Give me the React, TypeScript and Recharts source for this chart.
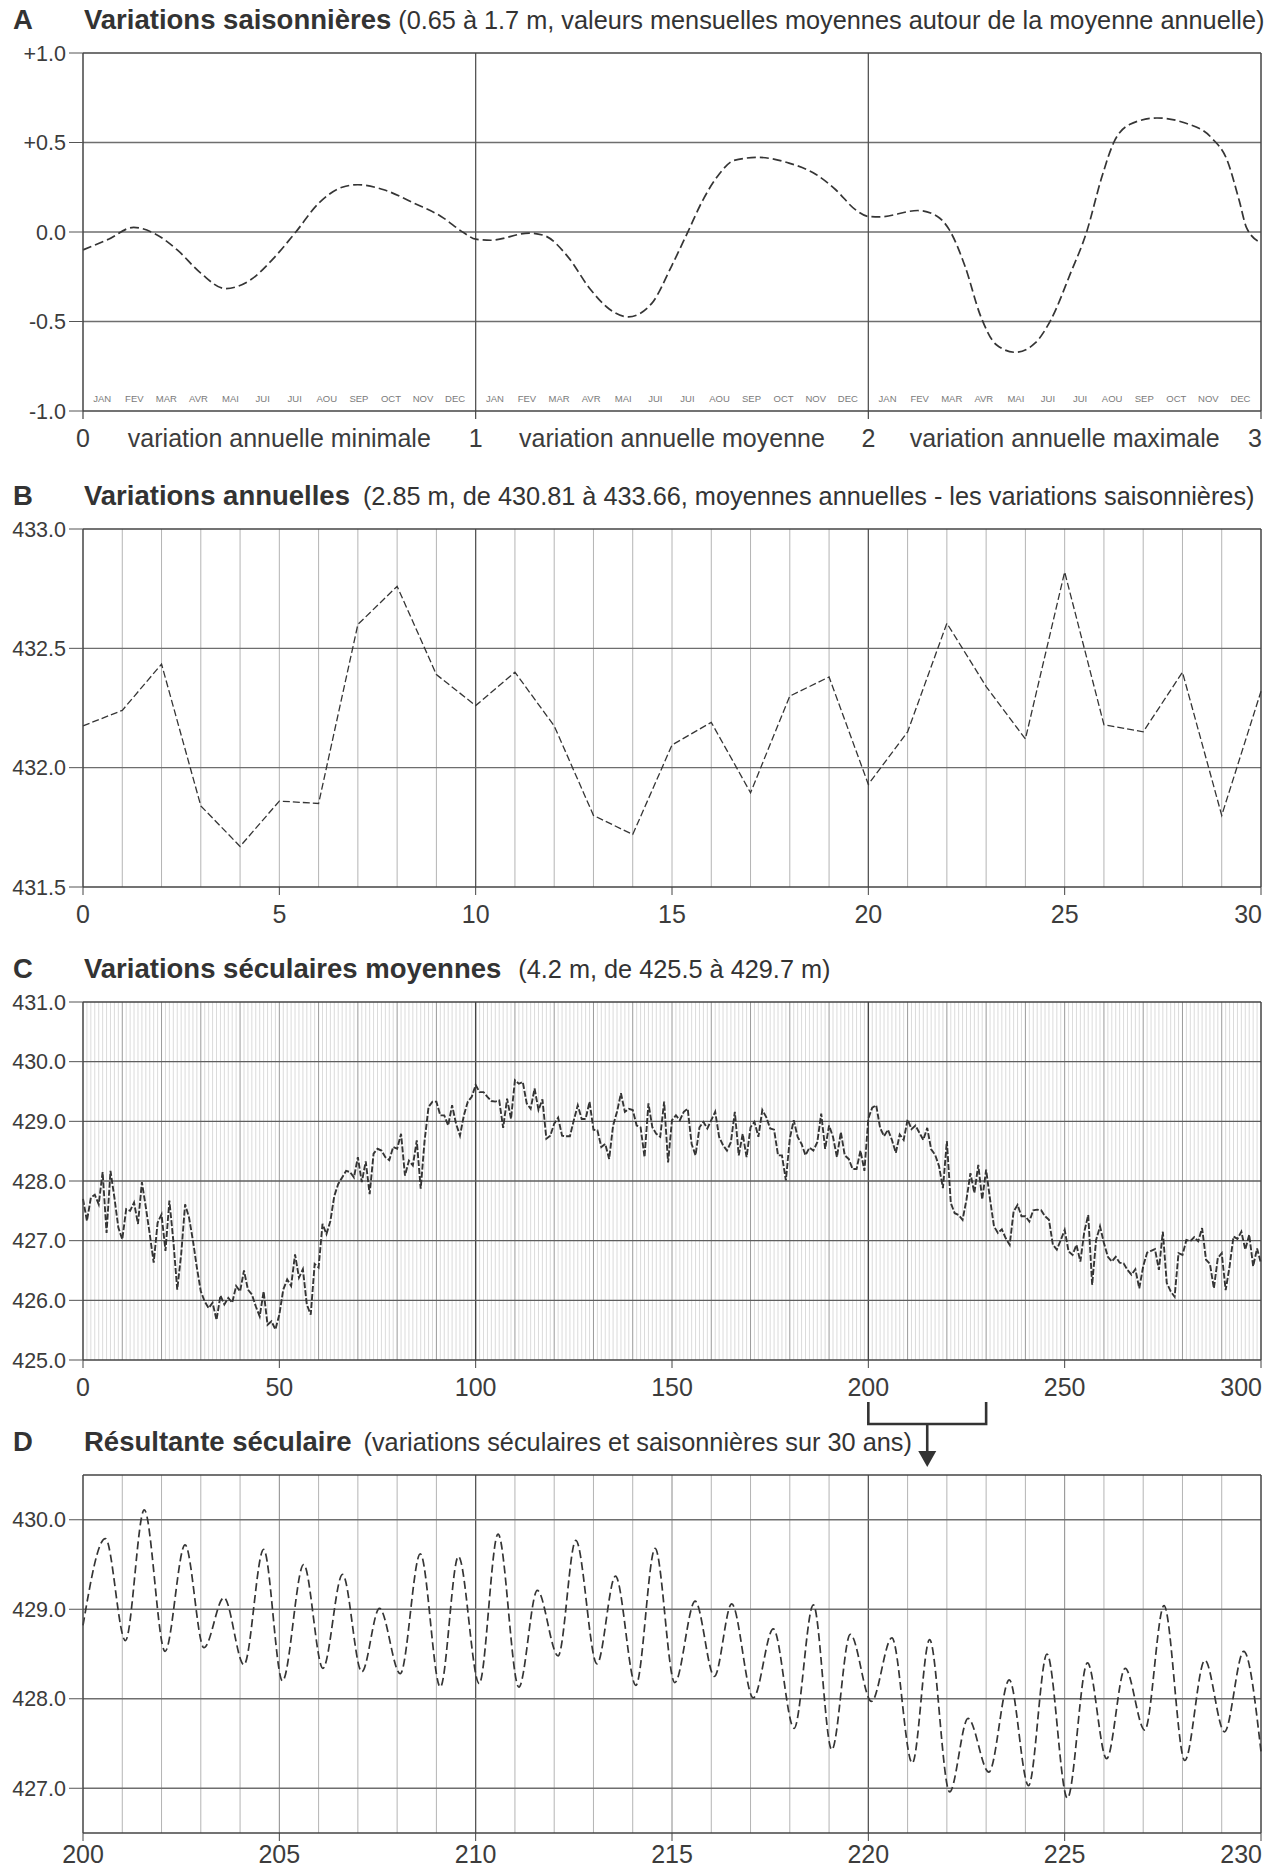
import React from 'react';
import { LineChart, Line, XAxis, YAxis, ReferenceLine, ReferenceDot } from 'recharts';

const FONT = '"Liberation Sans", Arial, Helvetica, sans-serif';
const INK = '#353535';
const TXT = '#3c3c3c';

// ---------- Panel A : variations saisonnières ----------
const seasonX = [
  0.0, 0.065, 0.129, 0.18, 0.24, 0.3, 0.362, 0.425, 0.484, 0.542, 0.6, 0.66, 0.7, 0.766, 0.844, 0.912, 0.971,
  1.0, 1.039, 1.136, 1.175, 1.234, 1.292, 1.34, 1.389, 1.448, 1.499, 1.539, 1.579, 1.619, 1.658, 1.718, 1.798,
  1.868, 1.917, 1.967, 2.0, 2.027, 2.126, 2.176, 2.206, 2.246, 2.286, 2.326, 2.375, 2.425, 2.465, 2.515, 2.555,
  2.595, 2.625, 2.665, 2.735, 2.805, 2.875, 2.914, 2.944, 2.964, 3.0,
];
const seasonY = [
  -0.1, -0.04, 0.026, -0.006, -0.1, -0.23, -0.316, -0.27, -0.15, 0.0, 0.16, 0.25, 0.264, 0.236, 0.16, 0.087, -0.006,
  -0.04, -0.046, -0.006, -0.02, -0.136, -0.32, -0.43, -0.474, -0.4, -0.19, -0.006, 0.18, 0.32, 0.4, 0.417, 0.385,
  0.32, 0.236, 0.125, 0.087, 0.084, 0.12, 0.087, 0.013, -0.19, -0.47, -0.63, -0.672, -0.62, -0.49, -0.23, -0.006,
  0.31, 0.5, 0.6, 0.637, 0.61, 0.524, 0.4, 0.18, 0.02, -0.06,
];
const seasonTicksY = [-1, -0.5, 0, 0.5, 1];
const seasonTicksX = [0, 0.5, 1, 1.5, 2, 2.5, 3];
const seasonXLabels: Record<string, string> = {
  '0': '0',
  '0.5': 'variation annuelle minimale',
  '1': '1',
  '1.5': 'variation annuelle moyenne',
  '2': '2',
  '2.5': 'variation annuelle maximale',
  '3': '3',
};
const monthLabels = ['JAN', 'FEV', 'MAR', 'AVR', 'MAI', 'JUI', 'JUI', 'AOU', 'SEP', 'OCT', 'NOV', 'DEC'];
const seasonSegments = [0, 1, 2];

// ---------- Panel B : variations annuelles ----------
const annualYears = [0, 1, 2, 3, 4, 5, 6, 7, 8, 9, 10, 11, 12, 13, 14, 15, 16, 17, 18, 19, 20, 21, 22, 23, 24, 25, 26, 27, 28, 29, 30];
const annualLevels = [
  432.175, 432.24, 432.434, 431.84, 431.67, 431.86, 431.85, 432.6, 432.76, 432.39, 432.26, 432.4, 432.175, 431.8,
  431.72, 432.095, 432.19, 431.895, 432.3, 432.38, 431.93, 432.15, 432.605, 432.34, 432.12, 432.82, 432.18, 432.15,
  432.4, 431.8, 432.32,
];
const annualTicksX = [0, 5, 10, 15, 20, 25, 30];
const annualTicksY = [431.5, 432, 432.5, 433];

// ---------- Panel C : variations séculaires moyennes ----------
const secularLevels = [
  427.7, 427.33, 427.72, 427.77, 427.61, 428.15, 427.13, 428.17, 427.72, 427.22,
  427.02, 427.53, 427.5, 427.64, 427.28, 427.98, 427.56, 427.11, 426.63, 427.3,
  427.44, 426.83, 427.67, 427.0, 426.18, 426.77, 427.61, 427.39, 427.0, 426.55,
  426.15, 425.98, 425.87, 425.96, 425.67, 426.08, 425.93, 426.04, 425.96, 426.24,
  426.15, 426.5, 426.18, 426.1, 425.9, 425.73, 426.15, 425.59, 425.65, 425.51,
  425.76, 426.18, 426.35, 426.24, 426.77, 426.38, 426.52, 425.93, 425.76, 426.61,
  426.55, 427.28, 427.11, 427.33, 427.75, 427.95, 428.06, 428.17, 428.15, 428.06,
  428.4, 427.98, 428.33, 427.78, 428.46, 428.54, 428.51, 428.4, 428.35, 428.57,
  428.54, 428.79, 428.09, 428.34, 428.26, 428.68, 427.87, 428.68, 429.24, 429.33,
  429.33, 429.1, 429.1, 428.93, 429.27, 428.96, 428.76, 429.1, 429.33, 429.41,
  429.61, 429.49, 429.49, 429.41, 429.34, 429.33, 429.35, 428.89, 429.38, 429.04,
  429.69, 429.63, 429.66, 429.3, 429.21, 429.55, 429.19, 429.37, 428.71, 428.76,
  428.96, 429.06, 428.76, 428.75, 428.75, 429.02, 429.27, 429.04, 429.04, 429.33,
  428.86, 428.85, 428.57, 428.62, 428.37, 428.93, 429.16, 429.47, 429.16, 429.21,
  429.19, 428.93, 428.9, 428.4, 429.3, 428.9, 428.79, 428.74, 429.33, 428.31,
  429.02, 429.1, 429.02, 429.16, 429.21, 428.62, 428.43, 428.9, 428.99, 428.88,
  429.02, 429.16, 428.74, 428.6, 428.51, 428.65, 429.16, 428.43, 428.79, 428.4,
  428.9, 428.99, 428.74, 429.19, 429.07, 428.88, 428.86, 428.43, 428.43, 428.01,
  428.71, 429.02, 428.74, 428.62, 428.43, 428.56, 428.51, 428.65, 429.13, 428.54,
  428.93, 428.74, 428.4, 428.82, 428.43, 428.37, 428.2, 428.2, 428.51, 428.17,
  429.05, 429.23, 429.27, 428.89, 428.75, 428.86, 428.69, 428.47, 428.78, 428.69,
  429.03, 428.87, 428.93, 428.81, 428.69, 428.89, 428.53, 428.44, 428.25, 427.88,
  428.67, 427.63, 427.46, 427.43, 427.35, 427.69, 428.13, 427.8, 428.27, 427.69,
  428.19, 427.69, 427.24, 427.13, 427.19, 427.04, 426.93, 427.49, 427.6, 427.41,
  427.41, 427.32, 427.51, 427.52, 427.51, 427.41, 427.35, 426.93, 426.85, 427.01,
  427.18, 426.82, 426.76, 426.93, 426.65, 427.15, 427.43, 426.26, 427.01, 427.24,
  426.96, 426.73, 426.65, 426.73, 426.63, 426.62, 426.51, 426.43, 426.52, 426.2,
  426.57, 426.8, 426.83, 426.86, 426.51, 427.15, 426.29, 426.15, 426.06, 426.79,
  426.76, 427.01, 426.99, 427.06, 426.99, 427.21, 426.68, 426.61, 426.2, 426.71,
  426.79, 426.17, 426.57, 427.07, 427.03, 427.15, 426.85, 427.1, 426.57, 426.87,
  426.62,
];
const secularTicksX = [0, 50, 100, 150, 200, 250, 300];
const secularTicksY = [425, 426, 427, 428, 429, 430, 431];

// ---------- Panel D : résultante séculaire ----------
const resultYears = [
  200.0, 200.57, 201.08, 201.56, 202.09, 202.6, 203.08, 203.59, 204.1, 204.6, 205.08, 205.62, 206.11, 206.61,
  207.1, 207.55, 208.08, 208.59, 209.1, 209.56, 210.09, 210.57, 211.1, 211.57, 212.1, 212.55, 213.09, 213.56,
  214.08, 214.57, 215.07, 215.59, 216.08, 216.52, 217.07, 217.58, 218.11, 218.6, 219.07, 219.54, 220.08, 220.6,
  221.12, 221.56, 222.07, 222.54, 223.07, 223.59, 224.08, 224.55, 225.07, 225.58, 226.07, 226.54, 227.04, 227.53,
  228.06, 228.57, 229.07, 229.56, 230.0,
];
const resultLevels = [
  428.82, 429.79, 428.65, 430.11, 428.53, 429.72, 428.57, 429.13, 428.38, 429.67, 428.2, 429.5, 428.34, 429.39,
  428.3, 429.01, 428.28, 429.62, 428.13, 429.59, 428.17, 429.84, 428.13, 429.21, 428.48, 429.77, 428.39, 429.37,
  428.15, 429.68, 428.18, 429.09, 428.25, 429.06, 428.01, 428.78, 427.67, 429.05, 427.43, 428.72, 427.97, 428.68,
  427.28, 428.66, 426.96, 427.78, 427.18, 428.21, 427.03, 428.5, 426.89, 428.4, 427.33, 428.34, 427.65, 429.04,
  427.31, 428.43, 427.63, 428.53, 427.41,
];
const resultTicksX = [200, 205, 210, 215, 220, 225, 230];
const resultTicksY = [427, 428, 429, 430];

// ---------- tables ----------
const seasonData = seasonX.map((x, i) => ({ x, y: seasonY[i] }));
const annualData = annualYears.map((x, i) => ({ x, y: annualLevels[i] }));
const secularData = secularLevels.map((y, i) => ({ x: i, y }));
const resultData = resultYears.map((x, i) => ({ x, y: resultLevels[i] }));

const range = (a: number, b: number) => Array.from({ length: b - a + 1 }, (_, i) => a + i);

// ---------- geometry ----------
const W = 1274;
const PLOT_L = 83;
const PLOT_R = 1261;
const M_TOP = 10;
const PLOT_H = 358;
const X_AX_H = 50;
const CH = M_TOP + PLOT_H + X_AX_H;
const TOPS = { A: 53, B: 529, C: 1002, D: 1475 };

const yTickStyle = { fontSize: 21.5, fill: TXT, fontFamily: FONT };

function makeXTick(fmt: (v: number) => string, first: number, last: number, drawMarks?: boolean) {
  return (props: any) => {
    const { x, y, payload } = props;
    const v = payload.value;
    const isLast = v === last;
    const isInt = Number.isInteger(v);
    return (
      <g>
        {drawMarks && isInt ? (
          <line x1={x} x2={x} y1={y - 18} y2={y - 10} stroke="#444" strokeWidth={1.2} />
        ) : null}
        <text
          x={isLast ? x + 1 : x}
          y={y}
          dy="0.71em"
          textAnchor={isLast ? 'end' : 'middle'}
          fontSize={25}
          fill={TXT}
          fontFamily={FONT}
        >
          {fmt(v)}
        </text>
      </g>
    );
  };
}

const frameProps = { stroke: '#444', strokeWidth: 1.5 };

function Frame(xd: number[], yd: number[]) {
  return [
    <ReferenceLine key="ft" y={yd[1]} {...frameProps} />,
    <ReferenceLine key="fr" x={xd[1]} {...frameProps} />,
  ];
}

function PanelA() {
  const xd = [0, 3];
  const yd = [-1, 1];
  return (
    <div style={{ position: 'absolute', left: 0, top: TOPS.A - M_TOP }}>
      <LineChart width={W} height={CH} data={seasonData} margin={{ top: M_TOP, right: W - PLOT_R, bottom: 0, left: 0 }}>
        <XAxis
          type="number"
          dataKey="x"
          domain={xd}
          ticks={seasonTicksX}
          interval={0}
          height={X_AX_H}
          tickLine={false}
          tickSize={8}
          tickMargin={10}
          axisLine={{ stroke: '#444', strokeWidth: 1.5 }}
          tick={makeXTick((v) => seasonXLabels[String(v)] ?? String(v), 0, 3, true)}
        />
        <YAxis
          type="number"
          domain={yd}
          ticks={seasonTicksY}
          interval={0}
          width={PLOT_L}
          tickSize={14}
          tickMargin={3}
          tickLine={{ stroke: '#555' }}
          axisLine={{ stroke: '#444', strokeWidth: 1.5 }}
          tick={yTickStyle}
          tickFormatter={(v: number) => (v > 0 ? '+' + v.toFixed(1) : v.toFixed(1))}
        />
        {[0.5, 0, -0.5].map((v) => (
          <ReferenceLine key={'h' + v} y={v} stroke="#6e6e6e" strokeWidth={1.3} />
        ))}
        {[1, 2].map((v) => (
          <ReferenceLine key={'v' + v} x={v} stroke="#555" strokeWidth={1.3} />
        ))}
        {Frame(xd, yd)}
        {seasonSegments.flatMap((s) =>
          monthLabels.map((m, i) => (
            <ReferenceDot
              key={s + '-' + i}
              x={s + 0.049 + i * 0.0817}
              y={-0.93}
              r={0}
              shape={(p: any) => (
                <text
                  x={p.cx}
                  y={p.cy}
                  textAnchor="middle"
                  dominantBaseline="central"
                  fontSize={9.5}
                  fill="#7a7a7a"
                  fontFamily={FONT}
                >
                  {m}
                </text>
              )}
            />
          ))
        )}
        <Line
          type="monotone"
          dataKey="y"
          stroke={INK}
          strokeWidth={1.7}
          strokeDasharray="9 4"
          dot={false}
          isAnimationActive={false}
        />
      </LineChart>
    </div>
  );
}

function PanelB() {
  const xd = [0, 30];
  const yd = [431.5, 433];
  return (
    <div style={{ position: 'absolute', left: 0, top: TOPS.B - M_TOP }}>
      <LineChart width={W} height={CH} data={annualData} margin={{ top: M_TOP, right: W - PLOT_R, bottom: 0, left: 0 }}>
        <XAxis
          type="number"
          dataKey="x"
          domain={xd}
          ticks={annualTicksX}
          interval={0}
          height={X_AX_H}
          tickSize={8}
          tickMargin={10}
          tickLine={{ stroke: '#444' }}
          axisLine={{ stroke: '#444', strokeWidth: 1.5 }}
          tick={makeXTick((v) => String(v), 0, 30)}
        />
        <YAxis
          type="number"
          domain={yd}
          ticks={annualTicksY}
          interval={0}
          width={PLOT_L}
          tickSize={14}
          tickMargin={3}
          tickLine={{ stroke: '#555' }}
          axisLine={{ stroke: '#444', strokeWidth: 1.5 }}
          tick={yTickStyle}
          tickFormatter={(v: number) => v.toFixed(1)}
        />
        {range(1, 29).map((v) => (
          <ReferenceLine
            key={'v' + v}
            x={v}
            stroke={v % 10 === 0 ? '#555' : '#b4b4b4'}
            strokeWidth={v % 10 === 0 ? 1.3 : 1}
          />
        ))}
        {[432.5, 432].map((v) => (
          <ReferenceLine key={'h' + v} y={v} stroke="#6e6e6e" strokeWidth={1.3} />
        ))}
        {Frame(xd, yd)}
        <Line
          type="linear"
          dataKey="y"
          stroke={INK}
          strokeWidth={1.3}
          strokeDasharray="7 3"
          dot={false}
          isAnimationActive={false}
        />
      </LineChart>
    </div>
  );
}

function PanelC() {
  const xd = [0, 300];
  const yd = [425, 431];
  return (
    <div style={{ position: 'absolute', left: 0, top: TOPS.C - M_TOP }}>
      <LineChart width={W} height={CH} data={secularData} margin={{ top: M_TOP, right: W - PLOT_R, bottom: 0, left: 0 }}>
        <XAxis
          type="number"
          dataKey="x"
          domain={xd}
          ticks={secularTicksX}
          interval={0}
          height={X_AX_H}
          tickSize={8}
          tickMargin={10}
          tickLine={{ stroke: '#444' }}
          axisLine={{ stroke: '#444', strokeWidth: 1.5 }}
          tick={makeXTick((v) => String(v), 0, 300)}
        />
        <YAxis
          type="number"
          domain={yd}
          ticks={secularTicksY}
          interval={0}
          width={PLOT_L}
          tickSize={14}
          tickMargin={3}
          tickLine={{ stroke: '#555' }}
          axisLine={{ stroke: '#444', strokeWidth: 1.5 }}
          tick={yTickStyle}
          tickFormatter={(v: number) => v.toFixed(1)}
        />
        {range(1, 299)
          .filter((v) => v % 10 !== 0)
          .map((v) => (
            <ReferenceLine key={'f' + v} x={v} stroke="#d2d2d2" strokeWidth={0.8} />
          ))}
        {range(1, 29).map((k) => (
          <ReferenceLine
            key={'d' + k}
            x={k * 10}
            stroke={k % 10 === 0 ? '#444' : '#9a9a9a'}
            strokeWidth={k % 10 === 0 ? 1.4 : 1}
          />
        ))}
        {[430, 429, 428, 427, 426].map((v) => (
          <ReferenceLine key={'h' + v} y={v} stroke="#5e5e5e" strokeWidth={1.4} />
        ))}
        {Frame(xd, yd)}
        <Line
          type="linear"
          dataKey="y"
          stroke={INK}
          strokeWidth={1.9}
          strokeDasharray="6 2"
          dot={false}
          isAnimationActive={false}
        />
      </LineChart>
    </div>
  );
}

function PanelD() {
  const xd = [200, 230];
  const yd = [426.5, 430.5];
  return (
    <div style={{ position: 'absolute', left: 0, top: TOPS.D - M_TOP }}>
      <LineChart width={W} height={CH} data={resultData} margin={{ top: M_TOP, right: W - PLOT_R, bottom: 0, left: 0 }}>
        <XAxis
          type="number"
          dataKey="x"
          domain={xd}
          ticks={resultTicksX}
          interval={0}
          height={X_AX_H}
          tickSize={8}
          tickMargin={4}
          tickLine={{ stroke: '#444' }}
          axisLine={{ stroke: '#444', strokeWidth: 1.5 }}
          tick={makeXTick((v) => String(v), 200, 230)}
        />
        <YAxis
          type="number"
          domain={yd}
          ticks={resultTicksY}
          interval={0}
          width={PLOT_L}
          tickSize={14}
          tickMargin={3}
          tickLine={{ stroke: '#555' }}
          axisLine={{ stroke: '#444', strokeWidth: 1.5 }}
          tick={yTickStyle}
          tickFormatter={(v: number) => v.toFixed(1)}
        />
        {range(201, 229).map((v) => (
          <ReferenceLine
            key={'v' + v}
            x={v}
            stroke={v % 10 === 0 ? '#555' : v % 5 === 0 ? '#8a8a8a' : '#b4b4b4'}
            strokeWidth={v % 10 === 0 ? 1.3 : 1}
          />
        ))}
        {[430, 429, 428, 427].map((v) => (
          <ReferenceLine key={'h' + v} y={v} stroke="#6e6e6e" strokeWidth={1.3} />
        ))}
        {Frame(xd, yd)}
        <Line
          type="monotone"
          dataKey="y"
          stroke={INK}
          strokeWidth={1.7}
          strokeDasharray="8 4"
          dot={false}
          isAnimationActive={false}
        />
      </LineChart>
    </div>
  );
}

const titles = [
  { letter: 'A', title: 'Variations saisonnières', sub: '(0.65 à 1.7 m, valeurs mensuelles moyennes autour de la moyenne annuelle)', base: 29, gap: 7 },
  { letter: 'B', title: 'Variations annuelles', sub: '(2.85 m, de 430.81 à 433.66, moyennes annuelles - les variations saisonnières)', base: 505, gap: 13 },
  { letter: 'C', title: 'Variations séculaires moyennes', sub: '(4.2 m, de 425.5 à 429.7 m)', base: 978, gap: 17 },
  { letter: 'D', title: 'Résultante séculaire', sub: '(variations séculaires et saisonnières sur 30 ans)', base: 1451, gap: 12 },
];

function Overlay() {
  const xC = (v: number) => PLOT_L + (v / 300) * (PLOT_R - PLOT_L);
  const bl = xC(200);
  const br = xC(230);
  const mid = (bl + br) / 2;
  return (
    <svg
      width={W}
      height={1870}
      style={{ position: 'absolute', left: 0, top: 0, pointerEvents: 'none' }}
    >
      {titles.map((t) => (
        <g key={t.letter}>
          <text x={13} y={t.base} fontFamily={FONT} fontWeight="bold" fontSize={27.5} fill="#333">
            {t.letter}
          </text>
          <text x={84} y={t.base} fontFamily={FONT} fill="#333">
            <tspan fontWeight="bold" fontSize={27.5}>
              {t.title}
            </tspan>
            <tspan dx={t.gap} fontSize={25.3}>
              {t.sub}
            </tspan>
          </text>
        </g>
      ))}
      <path
        d={`M${bl},1402 L${bl},1424 L${br},1424 L${br},1402`}
        fill="none"
        stroke="#333"
        strokeWidth={2.6}
      />
      <line x1={mid} x2={mid} y1={1424} y2={1454} stroke="#333" strokeWidth={2.6} />
      <path d={`M${mid - 9},1451 L${mid + 9},1451 L${mid},1467 Z`} fill="#333" />
    </svg>
  );
}

export default function App() {
  return (
    <div style={{ position: 'relative', width: W, height: 1870, background: '#fff', overflow: 'hidden' }}>
      <style>{'body{margin:0;background:#fff;}'}</style>
      <PanelA />
      <PanelB />
      <PanelC />
      <PanelD />
      <Overlay />
    </div>
  );
}
